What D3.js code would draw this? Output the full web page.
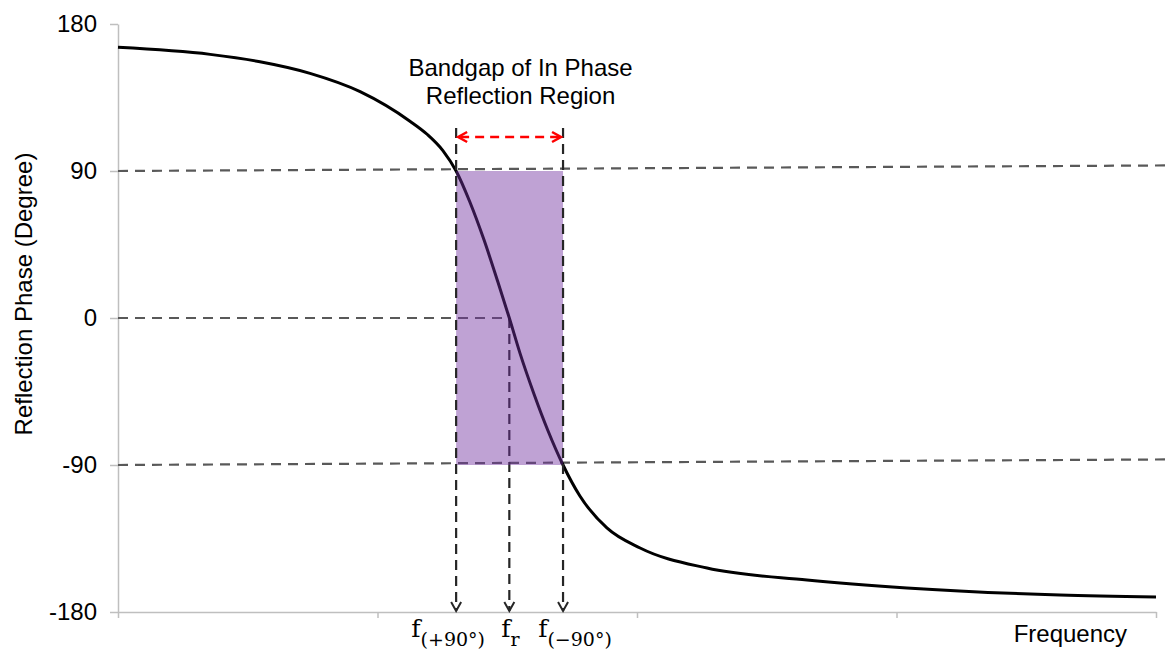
<!DOCTYPE html>
<html>
<head>
<meta charset="utf-8">
<script src="https://cdn.jsdelivr.net/npm/d3@7"></script>
<style>
  body { margin: 0; background: #fff; }
  text { font-family: "Liberation Sans", Arial, sans-serif; fill: #000; }
  .math { font-family: "DejaVu Serif", "Liberation Serif", serif; }
</style>
</head>
<body>
<div id="chart"></div>
<script>
// Data
const frequency = [0, 0.355, 0.547, 0.74, 0.933, 1.125, 1.191, 1.252, 1.303, 1.356, 1.41, 1.464, 1.508, 1.549, 1.603, 1.657, 1.715, 1.78, 1.884, 2.012, 2.27, 2.655, 3.04, 3.63, 4.0];
const phase = [165.7, 161.4, 156.9, 149.8, 138.6, 120.5, 112.5, 102.5, 90, 71, 48, 22, 0, -21.5, -46.5, -69, -90, -109, -128.5, -140.8, -153.1, -160.4, -165.3, -169.6, -170.8];

const yTicks = [180, 90, 0, -90, -180];
const xTicks = [0, 1, 2, 3, 4];

// band edges and resonance
const fPlus90 = 1.303;
const fMinus90 = 1.715;
const fRes = 1.508;

// reference lines: phase at left, phase at right end, right end freq
const refPhases = [90, 0, -90];
const refEndPhases = [93.4, 0, -86.6];
const refEndFreq = [4.04, fRes, 4.04];

const guideTop = 116.3;
const bandArrowPhase = 110.8;

function draw() {
  const dataset = frequency.map((f, i) => ({ f, p: phase[i] }));

  // Dimensions
  let dimensions = {
    width: 1166,
    height: 652,
    margins: { top: 24, right: 10, bottom: 40, left: 118 },
  };
  dimensions.ctrWidth = dimensions.width - dimensions.margins.left - dimensions.margins.right;
  dimensions.ctrHeight = dimensions.height - dimensions.margins.top - dimensions.margins.bottom;

  const svg = d3
    .select("#chart")
    .append("svg")
    .attr("width", dimensions.width)
    .attr("height", dimensions.height);

  const ctr = svg
    .append("g")
    .attr("transform", `translate(${dimensions.margins.left}, ${dimensions.margins.top})`);

  // Scales
  const xScale = d3.scaleLinear().domain([0, 4]).range([0, dimensions.ctrWidth]);
  const yScale = d3.scaleLinear().domain([-180, 180]).range([dimensions.ctrHeight, 0]);

  // Axes
  const yAxisGroup = ctr
    .append("g")
    .call(
      d3
        .axisLeft(yScale)
        .tickValues(yTicks)
        .tickSize(8)
        .tickSizeOuter(0)
        .tickPadding(13)
        .tickFormat((d) => `${d}`)
    );
  yAxisGroup.selectAll(".tick text").style("font-size", "24px").attr("fill", "#000");

  const xAxisGroup = ctr
    .append("g")
    .attr("transform", `translate(0, ${dimensions.ctrHeight})`)
    .call(d3.axisBottom(xScale).tickValues(xTicks).tickSize(6).tickSizeOuter(0).tickFormat(""));

  svg.selectAll(".domain, .tick line").attr("stroke", "#bfbfbf").attr("stroke-width", 1.5);

  // reference dashed lines
  ctr
    .selectAll(".ref")
    .data(refPhases)
    .join("line")
    .attr("x1", xScale(0))
    .attr("x2", (d, i) => xScale(refEndFreq[i]))
    .attr("y1", (d) => yScale(d))
    .attr("y2", (d, i) => yScale(refEndPhases[i]))
    .attr("stroke", "#595959")
    .attr("stroke-width", 2.2)
    .attr("stroke-dasharray", "10,7");

  // vertical guide with arrow down to the axis
  const guide = (f, top) => {
    ctr
      .append("line")
      .attr("x1", xScale(f))
      .attr("x2", xScale(f))
      .attr("y1", yScale(top))
      .attr("y2", dimensions.ctrHeight - 1)
      .attr("stroke", "#262626")
      .attr("stroke-width", 2.2)
      .attr("stroke-dasharray", "10,6");
    ctr
      .append("path")
      .attr(
        "d",
        `M${xScale(f) - 5},${dimensions.ctrHeight - 10} L${xScale(f)},${dimensions.ctrHeight - 1} L${xScale(f) + 5},${dimensions.ctrHeight - 10}`
      )
      .attr("fill", "none")
      .attr("stroke", "#262626")
      .attr("stroke-width", 2);
  };

  guide(fRes, 0);

  // Curve
  const lineGenerator = d3
    .line()
    .x((d) => xScale(d.f))
    .y((d) => yScale(d.p))
    .curve(d3.curveMonotoneX);

  ctr
    .append("path")
    .datum(dataset)
    .attr("d", lineGenerator)
    .attr("fill", "none")
    .attr("stroke", "#000")
    .attr("stroke-width", 3);

  // Band
  ctr
    .append("rect")
    .attr("x", xScale(fPlus90))
    .attr("y", yScale(90))
    .attr("width", xScale(fMinus90) - xScale(fPlus90))
    .attr("height", yScale(-90) - yScale(90))
    .attr("fill", "#7030a0")
    .attr("fill-opacity", 0.45);

  guide(fPlus90, guideTop);
  guide(fMinus90, guideTop);

  // bandgap arrow
  const ay = yScale(bandArrowPhase);
  const ax0 = xScale(fPlus90) + 2;
  const ax1 = xScale(fMinus90) - 2;
  ctr
    .append("line")
    .attr("x1", ax0 + 2)
    .attr("x2", ax1 - 2)
    .attr("y1", ay)
    .attr("y2", ay)
    .attr("stroke", "#ff0000")
    .attr("stroke-width", 2.5)
    .attr("stroke-dasharray", "9,6");
  ctr
    .append("path")
    .attr("d", `M${ax0 + 9},${ay - 5} L${ax0},${ay} L${ax0 + 9},${ay + 5} M${ax1 - 9},${ay - 5} L${ax1},${ay} L${ax1 - 9},${ay + 5}`)
    .attr("fill", "none")
    .attr("stroke", "#ff0000")
    .attr("stroke-width", 2.5);

  // Title
  const titleX = xScale((fPlus90 + fMinus90) / 2) + 11;
  ctr
    .append("text")
    .attr("x", titleX)
    .attr("y", 52)
    .attr("text-anchor", "middle")
    .style("font-size", "24px")
    .text("Bandgap of In Phase");
  ctr
    .append("text")
    .attr("x", titleX)
    .attr("y", 80)
    .attr("text-anchor", "middle")
    .style("font-size", "24px")
    .text("Reflection Region");

  // Frequency labels
  const fLabel = (f, sub, dx) => {
    const t = ctr
      .append("text")
      .attr("class", "math")
      .attr("x", xScale(f) + dx)
      .attr("y", dimensions.ctrHeight + 25)
      .attr("text-anchor", "middle")
      .style("font-size", "25px");
    t.append("tspan").text("f");
    t.append("tspan").attr("dy", 9).style("font-size", "19px").text(sub);
  };
  fLabel(fPlus90, "(+90°)", -8);
  fLabel(fRes, "r", 1);
  fLabel(fMinus90, "(−90°)", 12);

  // axis labels
  xAxisGroup
    .append("text")
    .attr("x", xScale(3.67))
    .attr("y", 30)
    .attr("fill", "#000")
    .attr("text-anchor", "middle")
    .style("font-size", "24px")
    .text("Frequency");

  yAxisGroup
    .append("text")
    .attr("transform", "rotate(270)")
    .attr("x", -yScale(0) + 24)
    .attr("y", -86)
    .attr("fill", "#000")
    .attr("text-anchor", "middle")
    .style("font-size", "24px")
    .text("Reflection Phase (Degree)");
}

draw();
</script>
</body>
</html>
